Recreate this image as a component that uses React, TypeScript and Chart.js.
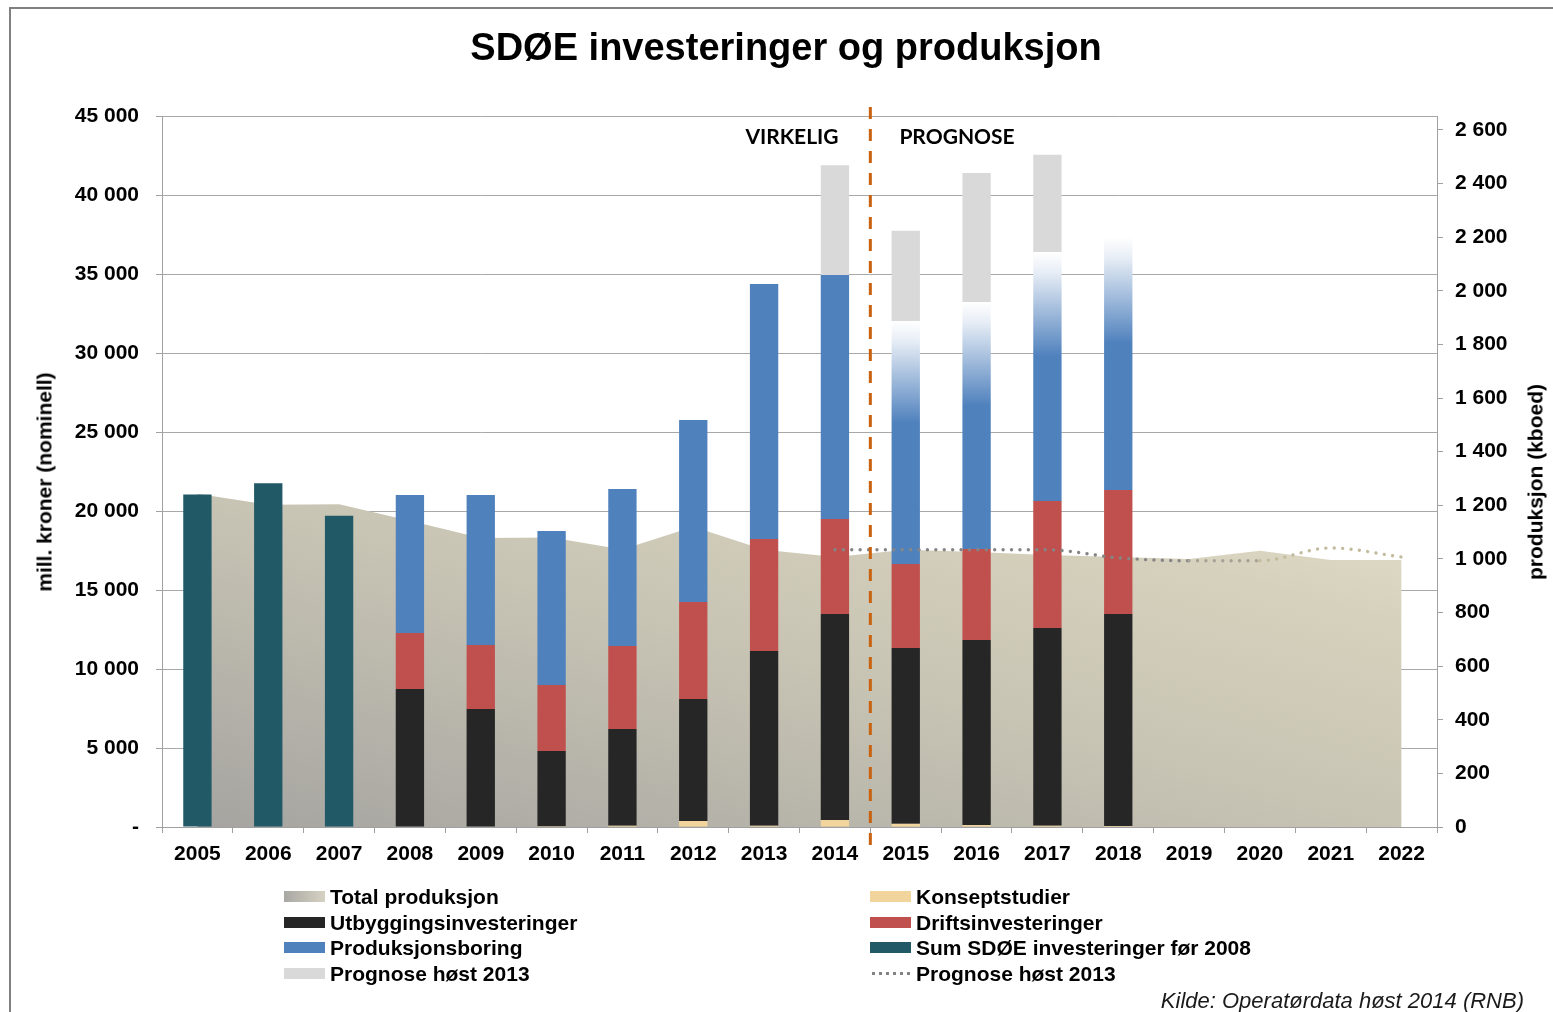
import React, { useEffect, useRef } from 'react';
import { Chart, registerables } from 'chart.js';

Chart.register(...registerables);

if (typeof document !== 'undefined') {
  document.body.style.margin = '0';
  document.documentElement.style.overflow = 'hidden';
}

// ---------- data ----------
const years = ['2005', '2006', '2007', '2008', '2009', '2010', '2011', '2012', '2013', '2014', '2015', '2016', '2017', '2018', '2019', '2020', '2021', '2022'];
const forecastFromYear = '2015';

const konseptstudier = [null, null, null, 0, 0, 50, 80, 380, 80, 440, 200, 120, 80, 60, null, null, null, null];
const utbyggingsinvesteringer = [null, null, null, 8730, 7470, 4760, 6120, 7720, 11060, 13040, 11130, 11720, 12520, 13420, null, null, null, null];
const driftsinvesteringer = [null, null, null, 3550, 4050, 4180, 5250, 6140, 7090, 6010, 5320, 5760, 8040, 7850, null, null, null, null];
const produksjonsboring = [null, null, null, 8740, 9490, 9750, 9940, 11520, 16140, 15440, 15380, 15630, 15760, 16010, null, null, null, null];
const prognoseInvestering = [null, null, null, null, null, null, null, null, null, 6960, 5700, 8160, 6140, null, null, null, null, null];
const sumForeTotal2008 = [21050, 21750, 19700, null, null, null, null, null, null, null, null, null, null, null, null, null, null, null];

const totalProduksjon = [1243, 1202, 1204, 1142, 1078, 1080, 1035, 1120, 1034, 1007, 1034, 1026, 1015, 1007, 1000, 1030, 996, 996];
const prognoseProduksjon = [null, null, null, null, null, null, null, null, null, 1034, 1034, 1034, 1034, 1004, 993, 993, 1041, 1007];

const leftTicksMax = 45000;
const leftTicksStep = 5000;
const rightTicksMax = 2652;
const rightTicksStep = 200;
const rightTickValues = [0, 200, 400, 600, 800, 1000, 1200, 1400, 1600, 1800, 2000, 2200, 2400, 2600];

// ---------- styles ----------
const FONT = '"Liberation Sans", Arial, sans-serif';
const C_KONSEPT = '#F2D59C';
const C_UTB = '#262626';
const C_DRIFT = '#C0504D';
const C_BORING = '#4F81BD';
const C_PROGNOSE = '#D9D9D9';
const C_SUM = '#215967';
const C_AXIS = '#A0A0A0';
const C_GRID = '#A8A8A8';
const C_ORANGE = '#C9620F';

const fmt = (v: number) => (v === 0 ? '0' : String(v).replace(/\B(?=(\d{3})+(?!\d))/g, ' '));

export default function App() {
  const ref = useRef<HTMLCanvasElement | null>(null);

  useEffect(() => {
    if (!ref.current) return;
    const forecastIdx = years.indexOf(forecastFromYear);

    const boringColor = (c: any) => {
      const i = c.dataIndex;
      if (i === undefined || i < forecastIdx) return C_BORING;
      const chart = c.chart;
      const ys = chart.scales && chart.scales.y;
      if (!ys || !chart.chartArea) return C_BORING;
      const base = (konseptstudier[i] || 0) + (utbyggingsinvesteringer[i] || 0) + (driftsinvesteringer[i] || 0);
      const top = base + (produksjonsboring[i] || 0);
      const y0 = ys.getPixelForValue(top);
      const y1 = ys.getPixelForValue(base);
      const g = chart.ctx.createLinearGradient(0, y0, 0, y1);
      g.addColorStop(0, '#FFFFFF');
      g.addColorStop(0.08, '#E8EEF6');
      g.addColorStop(0.42, C_BORING);
      g.addColorStop(1, C_BORING);
      return g;
    };

    const areaColor = (c: any) => {
      const chart = c.chart;
      const xs = chart.scales && chart.scales.x;
      const ys = chart.scales && chart.scales.y1;
      if (!xs || !ys || !chart.chartArea) return '#C9C5B5';
      const x0 = xs.getPixelForValue(0);
      const x1 = xs.getPixelForValue(years.length - 1);
      const yb = ys.getPixelForValue(0);
      const yt = ys.getPixelForValue(Math.max(...totalProduksjon));
      const W = x1 - x0;
      const H = yb - yt;
      const k = (2 * W * H) / (W * W + H * H);
      const g = chart.ctx.createLinearGradient(x0, yb, x0 + k * H, yb - k * W);
      g.addColorStop(0, '#A5A4A0');
      g.addColorStop(0.5, '#C8C4B4');
      g.addColorStop(0.8, '#D6D1BC');
      g.addColorStop(1, '#E2DECB');
      return g;
    };

    const divider = {
      id: 'divider',
      afterDraw(chart: any) {
        const xs = chart.scales.x;
        const i = years.indexOf(forecastFromYear);
        const x = (xs.getPixelForValue(i - 1) + xs.getPixelForValue(i)) / 2;
        const ctx = chart.ctx;
        ctx.save();
        ctx.strokeStyle = C_ORANGE;
        ctx.lineWidth = 3;
        ctx.setLineDash([12, 10]);
        ctx.beginPath();
        ctx.moveTo(x, chart.chartArea.top - 9);
        ctx.lineTo(x, chart.chartArea.bottom + 18);
        ctx.stroke();
        ctx.restore();
      },
    };

    const barBase = {
      type: 'bar' as const,
      yAxisID: 'y',
      stack: 'inv',
      order: 1,
      barPercentage: 0.4,
      categoryPercentage: 1,
      borderWidth: 0,
    };

    const chart = new Chart(ref.current, {
      type: 'bar',
      data: {
        labels: years,
        datasets: [
          { ...barBase, label: 'Konseptstudier', data: konseptstudier, backgroundColor: C_KONSEPT },
          { ...barBase, label: 'Utbyggingsinvesteringer', data: utbyggingsinvesteringer, backgroundColor: C_UTB },
          { ...barBase, label: 'Driftsinvesteringer', data: driftsinvesteringer, backgroundColor: C_DRIFT },
          { ...barBase, label: 'Produksjonsboring', data: produksjonsboring, backgroundColor: boringColor },
          { ...barBase, label: 'Prognose høst 2013', data: prognoseInvestering, backgroundColor: C_PROGNOSE },
          { ...barBase, label: 'Sum SDØE investeringer før 2008', data: sumForeTotal2008, backgroundColor: C_SUM },
          {
            type: 'line',
            label: 'Total produksjon',
            data: totalProduksjon,
            yAxisID: 'y1',
            order: 5,
            fill: 'origin',
            backgroundColor: areaColor,
            borderWidth: 0,
            borderColor: 'rgba(0,0,0,0)',
            pointRadius: 0,
            tension: 0,
          } as any,
          {
            type: 'line',
            label: 'Prognose høst 2013 (produksjon)',
            data: prognoseProduksjon,
            yAxisID: 'y1',
            order: 0,
            fill: false,
            borderColor: '#808080',
            borderWidth: 3.4,
            borderDash: [0.01, 8.4],
            borderCapStyle: 'round',
            pointRadius: 0,
            cubicInterpolationMode: 'monotone',
            segment: {
              borderColor: (s: any) => (s.p0DataIndex >= 15 ? '#C2BB9E' : s.p0DataIndex >= 14 ? '#A5A295' : '#858585'),
            },
          } as any,
        ],
      },
      options: {
        responsive: false,
        animation: false,
        devicePixelRatio: 1,
        layout: { padding: { top: 116, left: 0, right: 0, bottom: 0 } },
        plugins: { legend: { display: false }, title: { display: false }, tooltip: { enabled: false } },
        scales: {
          x: {
            stacked: true,
            offset: true,
            grid: { offset: true, drawOnChartArea: false, drawTicks: true, tickLength: 6, color: C_AXIS },
            border: { display: true, color: C_AXIS, width: 1 },
            ticks: { color: '#000', font: { family: FONT, size: 21, weight: 'bold' }, padding: 9, maxRotation: 0, autoSkip: false },
            afterFit: (s: any) => { s.height = 1012 - 827; },
          },
          y: {
            type: 'linear',
            position: 'left',
            stacked: true,
            min: 0,
            max: leftTicksMax,
            grid: { color: C_GRID, lineWidth: 1, drawTicks: true, tickLength: 6, tickColor: C_AXIS },
            border: { display: true, color: C_AXIS, width: 1 },
            ticks: {
              stepSize: leftTicksStep,
              color: '#000',
              font: { family: FONT, size: 21, weight: 'bold' },
              padding: 17,
              callback: (v: any) => (Number(v) === 0 ? '-' : fmt(Number(v))),
            },
            afterFit: (s: any) => { s.width = 162; },
          },
          y1: {
            type: 'linear',
            position: 'right',
            min: 0,
            max: rightTicksMax,
            grid: { drawOnChartArea: false, drawTicks: true, tickLength: 6, color: C_AXIS },
            border: { display: true, color: C_AXIS, width: 1 },
            ticks: {
              stepSize: rightTicksStep,
              color: '#000',
              font: { family: FONT, size: 21, weight: 'bold' },
              padding: 12,
              autoSkip: false,
              callback: (v: any) => fmt(Number(v)),
            },
            afterBuildTicks: (s: any) => { s.ticks = rightTickValues.map((v) => ({ value: v })); },
            afterFit: (s: any) => { s.width = 1553 - 1437; },
          },
        },
      } as any,
      plugins: [divider],
    });
    return () => chart.destroy();
  }, []);

  const txt = (extra: React.CSSProperties): React.CSSProperties => ({
    position: 'absolute',
    whiteSpace: 'nowrap',
    fontFamily: FONT,
    fontWeight: 'bold',
    fontSize: 21,
    lineHeight: '21px',
    color: '#000',
    ...extra,
  });

  const legendLeft = [
    { label: 'Total produksjon', kind: 'area' },
    { label: 'Utbyggingsinvesteringer', color: C_UTB },
    { label: 'Produksjonsboring', color: C_BORING },
    { label: 'Prognose høst 2013', color: C_PROGNOSE },
  ];
  const legendRight = [
    { label: 'Konseptstudier', color: C_KONSEPT },
    { label: 'Driftsinvesteringer', color: C_DRIFT },
    { label: 'Sum SDØE investeringer før 2008', color: C_SUM },
    { label: 'Prognose høst 2013', kind: 'dots' },
  ];
  const rowsY = [896, 922, 947, 973];

  const marker = (item: any, x: number, y: number, key: string) => {
    if (item.kind === 'dots') {
      return (
        <div key={key} style={{ position: 'absolute', left: x, top: y - 1.5, width: 41, height: 3, backgroundImage: 'radial-gradient(circle, #808080 1.4px, transparent 1.6px)', backgroundSize: '7px 3px' }} />
      );
    }
    const bg = item.kind === 'area' ? 'linear-gradient(90deg, #A8A7A3, #D6D2C2)' : item.color;
    return <div key={key} style={{ position: 'absolute', left: x, top: y - 5, width: 41, height: 11, background: bg }} />;
  };

  return (
    <div style={{ position: 'relative', width: 1553, height: 1012, overflow: 'hidden', background: '#fff' }}>
      <div style={{ position: 'absolute', left: 9, top: 7, width: 1553 - 9, height: 1012 - 7, borderTop: '2px solid #808080', borderLeft: '2px solid #808080', boxSizing: 'border-box' }} />
      <canvas ref={ref} width={1553} height={1012} style={{ position: 'absolute', left: 0, top: 0, width: 1553, height: 1012 }} />
      <div style={txt({ left: 0, width: 1572, textAlign: 'center', top: 28, fontSize: 38, lineHeight: '38px' })}>SDØE investeringer og produksjon</div>
      <div style={txt({ left: 44, top: 482, transform: 'translate(-50%, -50%) rotate(-90deg)' })}>mill. kroner (nominell)</div>
      <div style={txt({ left: 1535, top: 482, transform: 'translate(-50%, -50%) rotate(-90deg)' })}>produksjon (kboed)</div>
      <div style={txt({ left: 792, top: 135, transform: 'translate(-50%, -50%)', fontFamily: 'Lato, sans-serif', fontSize: 21 })}>VIRKELIG</div>
      <div style={txt({ left: 957, top: 135, transform: 'translate(-50%, -50%)', fontFamily: 'Lato, sans-serif', fontSize: 21 })}>PROGNOSE</div>
      {legendLeft.map((it, i) => marker(it, 284, rowsY[i], 'ml' + i))}
      {legendLeft.map((it, i) => (
        <div key={'tl' + i} style={txt({ left: 330, top: rowsY[i] - 10.5 })}>{it.label}</div>
      ))}
      {legendRight.map((it, i) => marker(it, 870, rowsY[i], 'mr' + i))}
      {legendRight.map((it, i) => (
        <div key={'tr' + i} style={txt({ left: 916, top: rowsY[i] - 10.5 })}>{it.label}</div>
      ))}
      <div style={txt({ right: 1553 - 1524, top: 1001 - 11, fontWeight: 'normal', fontStyle: 'italic', fontSize: 22, lineHeight: '22px', color: '#1A1A1A' })}>Kilde: Operatørdata høst 2014 (RNB)</div>
    </div>
  );
}
